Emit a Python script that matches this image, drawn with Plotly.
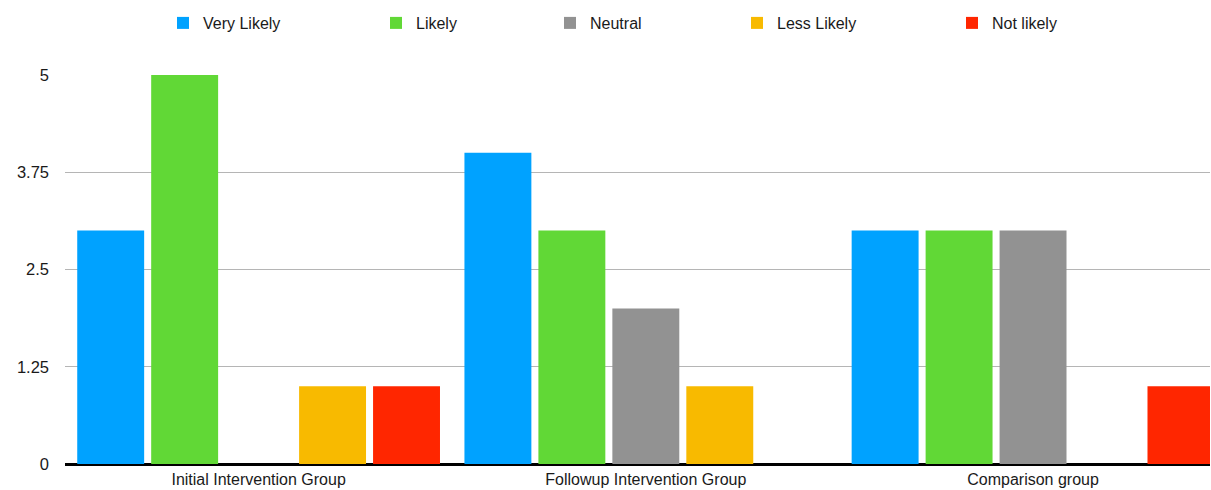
import plotly.graph_objects as go

categories = ["Initial Intervention Group", "Followup Intervention Group", "Comparison group"]
series_names = ["Very Likely", "Likely", "Neutral", "Less Likely", "Not likely"]
very_likely = [3, 4, 3]
likely = [5, 3, 3]
neutral = [0, 2, 3]
less_likely = [1, 1, 0]
not_likely = [1, 0, 1]
tick_vals = [0, 1.25, 2.5, 3.75, 5]
tick_text = ["0", "1.25", "2.5", "3.75", "5"]

colors = ["#00A2FF", "#61D836", "#929292", "#F8BA00", "#FF2600"]
series_values = [very_likely, likely, neutral, less_likely, not_likely]
legend_px = [175, 388, 562, 749, 964]
legend_ids = ["legend", "legend2", "legend3", "legend4", "legend5"]

W, H = 1211, 490
fig = go.Figure()
for name, vals, col, lid in zip(series_names, series_values, colors, legend_ids):
    fig.add_trace(go.Bar(
        x=categories, y=vals, name=name,
        marker=dict(color=col, line=dict(width=0)),
        legend=lid,
    ))

family = "Liberation Sans, Arial, Helvetica, sans-serif"
font = dict(family=family, size=16, color="#1a1a1a")
layout_legends = {}
for lid, px in zip(legend_ids, legend_px):
    layout_legends[lid] = dict(
        orientation="h", xref="container", yref="container",
        x=(px - 12) / W, y=1 - 23 / H, xanchor="left", yanchor="middle",
        font=dict(family=family, size=16, color="#1a1a1a"),
        bgcolor="rgba(0,0,0,0)", itemclick=False,
    )

fig.update_layout(
    width=W, height=H,
    margin=dict(l=65, r=1, t=75, b=26),
    paper_bgcolor="white", plot_bgcolor="white",
    barmode="group", bargap=0.045, bargroupgap=0.095,
    font=font,
    showlegend=True,
    **layout_legends,
)
fig.update_xaxes(
    range=[-0.5, 2.457],
    showgrid=False, showline=True, linecolor="black", linewidth=1.5,
    ticks="", tickfont=dict(size=16, color="#1a1a1a"),
)
fig.update_yaxes(
    range=[0, 5], tickvals=tick_vals, ticktext=tick_text,
    showgrid=True, gridcolor="#B5B5B5", gridwidth=1,
    zeroline=True, zerolinecolor="black", zerolinewidth=1.5,
    showline=False, ticks="", ticklabelstandoff=15,
    tickfont=dict(size=16.5, color="#1a1a1a"),
)

fig.write_html("out.html")
